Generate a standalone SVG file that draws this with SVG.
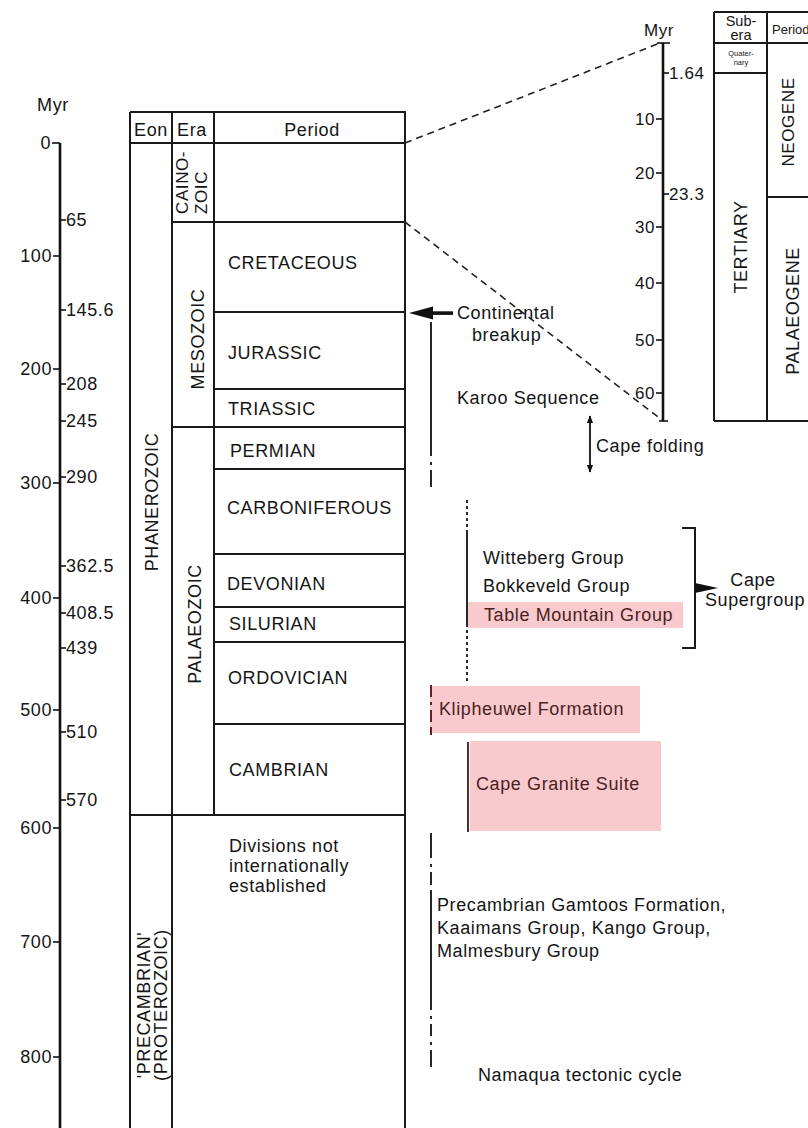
<svg xmlns="http://www.w3.org/2000/svg" width="808" height="1128" viewBox="0 0 808 1128">
<defs>
<style>
text{font-family:"Liberation Sans",Arial,Helvetica,sans-serif;fill:#151515;font-size:18px;letter-spacing:0.6px}
.ln{stroke:#1a1a1a;stroke-width:2;fill:none}
.ax{stroke:#111;stroke-width:2.6;fill:none}
.tk{stroke:#111;stroke-width:1.6}
.dash{stroke:#222;stroke-width:1.6;stroke-dasharray:7 5;fill:none}
.pink{fill:#f8c9cd}
.onpink{fill:#4a1f22}
.mid{text-anchor:middle}
.end{text-anchor:end}
.sm{font-size:17px}
.tiny{letter-spacing:0}
</style>
<marker id="ah" viewBox="0 0 10 10" refX="9" refY="5" markerWidth="8" markerHeight="8" orient="auto-start-reverse" markerUnits="userSpaceOnUse">
<path d="M0,1 L10,5 L0,9 z" fill="#111"/>
</marker>
</defs>
<rect width="808" height="1128" fill="#ffffff"/>

<g id="main-axis">
<text x="53" y="111" class="mid">Myr</text>
<line class="ax" x1="60" y1="143" x2="60" y2="1128"/>
<g class="tk">
<line x1="52" y1="143" x2="60" y2="143"/>
<line x1="53" y1="256" x2="60" y2="256"/>
<line x1="53" y1="369" x2="60" y2="369"/>
<line x1="53" y1="483" x2="60" y2="483"/>
<line x1="53" y1="598" x2="60" y2="598"/>
<line x1="53" y1="710" x2="60" y2="710"/>
<line x1="53" y1="828" x2="60" y2="828"/>
<line x1="53" y1="942" x2="60" y2="942"/>
<line x1="53" y1="1057" x2="60" y2="1057"/>
<line x1="60" y1="220" x2="66" y2="220"/>
<line x1="60" y1="310" x2="66" y2="310"/>
<line x1="60" y1="384" x2="66" y2="384"/>
<line x1="60" y1="421" x2="66" y2="421"/>
<line x1="60" y1="477" x2="66" y2="477"/>
<line x1="60" y1="566" x2="66" y2="566"/>
<line x1="60" y1="613" x2="66" y2="613"/>
<line x1="60" y1="648" x2="66" y2="648"/>
<line x1="60" y1="732" x2="66" y2="732"/>
<line x1="60" y1="800" x2="66" y2="800"/>
</g>
<text x="51" y="149" class="end">0</text>
<text x="52" y="262" class="end">100</text>
<text x="52" y="375" class="end">200</text>
<text x="52" y="489" class="end">300</text>
<text x="52" y="604" class="end">400</text>
<text x="52" y="716" class="end">500</text>
<text x="52" y="834" class="end">600</text>
<text x="52" y="948" class="end">700</text>
<text x="52" y="1063" class="end">800</text>
<text x="66" y="226">65</text>
<text x="66" y="316">145.6</text>
<text x="66" y="390">208</text>
<text x="66" y="427">245</text>
<text x="66" y="483">290</text>
<text x="66" y="572">362.5</text>
<text x="66" y="619">408.5</text>
<text x="66" y="654">439</text>
<text x="66" y="738">510</text>
<text x="66" y="806">570</text>
</g>

<g id="time-table">
<path class="ln" d="M130,112 H405 V1128 M130,112 V1128 M172,112 V1128 M214,112 V815 M130,143 H405 M172,222 H405 M214,312 H405 M214,389 H405 M172,427 H405 M214,469 H405 M214,554 H405 M214,607 H405 M214,642 H405 M214,724 H405 M130,815 H405"/>
<text x="151" y="136" class="mid">Eon</text>
<text x="192" y="136" class="mid">Era</text>
<text x="312" y="136" class="mid">Period</text>
</g>

<g id="eon-phanerozoic"><text class="mid" transform="translate(158,502) rotate(-90)">PHANEROZOIC</text></g>
<g id="eon-precambrian">
<text class="mid" transform="translate(150,1005) rotate(-90)">'PRECAMBRIAN'</text>
<text class="mid" transform="translate(167,1005) rotate(-90)">(PROTEROZOIC)</text>
</g>
<g id="era-cainozoic">
<text class="sm" transform="translate(188,214) rotate(-90)">CAINO-</text>
<text class="sm" transform="translate(207,214) rotate(-90)">ZOIC</text>
</g>
<g id="era-mesozoic"><text class="mid" transform="translate(204,339) rotate(-90)">MESOZOIC</text></g>
<g id="era-palaeozoic"><text class="mid" transform="translate(201,624) rotate(-90)">PALAEOZOIC</text></g>

<g id="period-cretaceous"><text x="228" y="269">CRETACEOUS</text></g>
<g id="period-jurassic"><text x="228" y="359">JURASSIC</text></g>
<g id="period-triassic"><text x="228" y="415">TRIASSIC</text></g>
<g id="period-permian"><text x="230" y="457">PERMIAN</text></g>
<g id="period-carboniferous"><text x="227" y="514">CARBONIFEROUS</text></g>
<g id="period-devonian"><text x="227" y="590">DEVONIAN</text></g>
<g id="period-silurian"><text x="229" y="630">SILURIAN</text></g>
<g id="period-ordovician"><text x="228" y="684">ORDOVICIAN</text></g>
<g id="period-cambrian"><text x="229" y="776">CAMBRIAN</text></g>
<g id="precambrian-divisions">
<text x="229" y="852">Divisions not</text>
<text x="229" y="872">internationally</text>
<text x="229" y="892">established</text>
</g>

<g id="inset-axis">
<text x="659" y="36" class="mid sm">Myr</text>
<line class="ax" x1="663" y1="43" x2="663" y2="421"/>
<g class="tk">
<line x1="657" y1="43" x2="670" y2="43"/>
<line x1="659" y1="421" x2="668" y2="421"/>
<line x1="656" y1="119" x2="663" y2="119"/>
<line x1="656" y1="173" x2="663" y2="173"/>
<line x1="656" y1="227" x2="663" y2="227"/>
<line x1="656" y1="283" x2="663" y2="283"/>
<line x1="656" y1="340" x2="663" y2="340"/>
<line x1="656" y1="393" x2="663" y2="393"/>
<line x1="663" y1="73" x2="669" y2="73"/>
<line x1="663" y1="194" x2="669" y2="194"/>
</g>
<text x="655" y="125" class="end sm">10</text>
<text x="655" y="179" class="end sm">20</text>
<text x="655" y="233" class="end sm">30</text>
<text x="655" y="289" class="end sm">40</text>
<text x="655" y="346" class="end sm">50</text>
<text x="655" y="399" class="end sm">60</text>
<text x="669" y="79" class="sm">1.64</text>
<text x="669" y="200" class="sm">23.3</text>
</g>

<g id="inset-table">
<path class="ln" d="M714,12 H808 M714,43 H808 M714,12 V421 M767,12 V421 M714,421 H808 M714,73 H767 M767,197 H808"/>
<text x="741" y="26" class="mid tiny" style="font-size:14.5px">Sub-</text>
<text x="741" y="40" class="mid tiny" style="font-size:14.5px">era</text>
<text x="772" y="34" class="tiny" style="font-size:13px">Period</text>
<text x="741" y="56" class="mid tiny" style="font-size:7.5px">Quater-</text>
<text x="741" y="65" class="mid tiny" style="font-size:7.5px">nary</text>
</g>
<g id="inset-tertiary"><text class="mid" transform="translate(747,247) rotate(-90)">TERTIARY</text></g>
<g id="inset-neogene"><text class="mid sm" transform="translate(794,122) rotate(-90)">NEOGENE</text></g>
<g id="inset-palaeogene"><text class="mid" transform="translate(799,311) rotate(-90)">PALAEOGENE</text></g>

<g id="continental-breakup">
<text x="457" y="319">Continental</text>
<text x="472" y="341">breakup</text>
</g>
<g id="karoo-sequence"><text x="457" y="404">Karoo Sequence</text></g>
<g id="cape-folding"><text x="596" y="452">Cape folding</text></g>
<g id="witteberg-group"><text x="483" y="564">Witteberg Group</text></g>
<g id="bokkeveld-group"><text x="483" y="592">Bokkeveld Group</text></g>
<g id="table-mountain-group">
<rect class="pink" x="468" y="602" width="215" height="26"/>
<text x="484" y="621" class="onpink">Table Mountain Group</text>
</g>
<g id="cape-supergroup">
<text x="753" y="586" class="mid">Cape</text>
<text x="755" y="606" class="mid">Supergroup</text>
</g>
<g id="klipheuwel-formation">
<rect class="pink" x="430" y="686" width="210" height="47"/>
<text x="439" y="715" class="onpink">Klipheuwel Formation</text>
</g>
<g id="cape-granite-suite">
<rect class="pink" x="470" y="741" width="191" height="90"/>
<text x="476" y="790" class="onpink">Cape Granite Suite</text>
</g>
<g id="precambrian-groups">
<text x="437" y="911">Precambrian Gamtoos Formation,</text>
<text x="437" y="934">Kaaimans Group, Kango Group,</text>
<text x="437" y="957">Malmesbury Group</text>
</g>
<g id="namaqua-cycle"><text x="478" y="1081">Namaqua tectonic cycle</text></g>

<g id="connectors">
<line class="dash" x1="405" y1="143" x2="660" y2="43"/>
<line class="dash" x1="405" y1="222" x2="662" y2="420"/>
<rect x="430" y="311.3" width="23" height="3.6" fill="#111"/>
<path d="M409,313 L433,306.5 L433,319.5 z" fill="#111"/>
<line x1="590" y1="416" x2="590" y2="472" stroke="#111" stroke-width="1.8" marker-start="url(#ah)" marker-end="url(#ah)"/>
<path d="M431,322 V456 M431,462 V465 M431,470 V487" stroke="#111" stroke-width="1.8" fill="none"/>
<path d="M467,500 V530" stroke="#111" stroke-width="1.8" stroke-dasharray="3 3" fill="none"/>
<path d="M467,530 V627" stroke="#111" stroke-width="1.8" fill="none"/>
<path d="M467,630 V682" stroke="#111" stroke-width="1.8" stroke-dasharray="3 3" fill="none"/>
<path d="M682,528 H695 V648 H682" class="ln"/>
<path d="M695,583 L718,588 L695,593 z" fill="#111"/>
<path d="M431,685 V697 M431,702 V705 M431,710 V722 M431,727 V735" stroke="#6a1c2a" stroke-width="2" fill="none"/>
<line x1="468" y1="742" x2="468" y2="832" stroke="#3a1a20" stroke-width="1.8"/>
<path d="M431,833 V858 M431,864 V867 M431,872 V885 M431,890 V1010 M431,1016 V1019 M431,1024 V1036 M431,1042 V1045 M431,1050 V1067" stroke="#111" stroke-width="1.8" fill="none"/>
</g>
</svg>
